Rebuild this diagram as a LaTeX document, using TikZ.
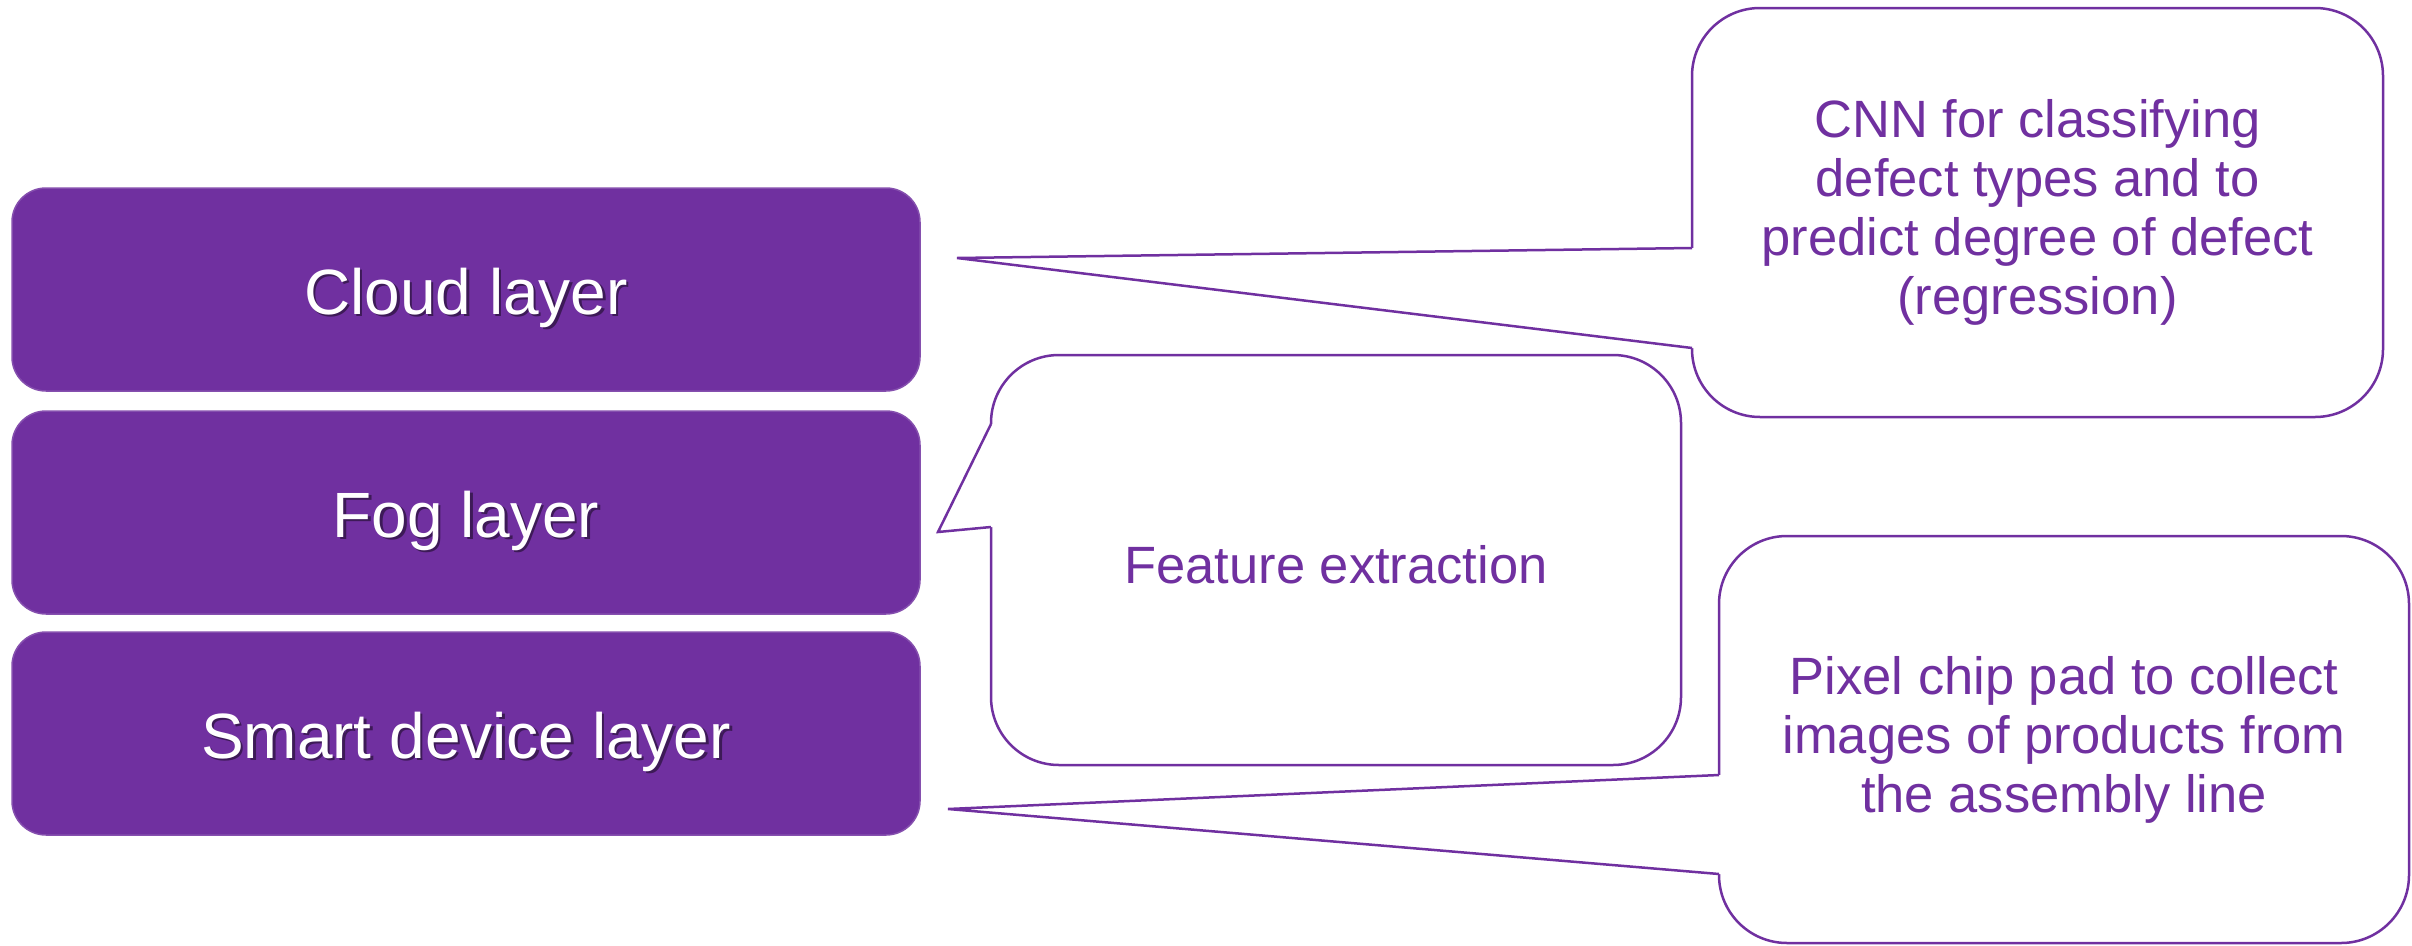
\documentclass[tikz,border=0pt]{standalone}
\usepackage{fontspec}
\setmainfont{Liberation Sans}
\usetikzlibrary{calc}
\definecolor{ppl}{HTML}{7030A0}
\begin{document}
\begin{tikzpicture}[x=1pt,y=-1pt,
  layer/.style={fill=ppl, draw=ppl!85!white, line width=1.5pt, rounded corners=34pt,
    minimum width=908pt, minimum height=203pt, inner sep=0pt, outer sep=0pt},
  ltext/.style={text=white, font=\fontsize{64}{72}\selectfont, inner sep=0pt},
  lshadow/.style={text=black, text opacity=0.45, font=\fontsize{64}{72}\selectfont, inner sep=0pt},
  callout/.style={draw=ppl, fill=white, line width=2.5pt, rounded corners=68pt,
    text=ppl, align=center, font=\fontsize{52.5}{59}\selectfont, inner sep=0pt, outer sep=0pt},
  ptr/.style={draw=ppl, line width=2.5pt, line join=miter},
]
\useasboundingbox (0,0) rectangle (2412,945);

% layer boxes
\node[layer] (cloud) at (466,289.5) {};
\node[layer] (fog)   at (466,512.5) {};
\node[layer] (smart) at (466,733.5) {};

\node[lshadow] (cloudsh) at ($(cloud)+(2.5,10.5)$) {Cloud layer};
\node[ltext]   (cloudtx) at ($(cloud)+(0,8)$) {Cloud layer};
\node[lshadow] (fogsh) at ($(fog)+(2.5,10.5)$) {Fog layer};
\node[ltext]   (fogtx) at ($(fog)+(0,8)$) {Fog layer};
\node[lshadow] (smartsh) at ($(smart)+(2.5,10.5)$) {Smart device layer};
\node[ltext]   (smarttx) at ($(smart)+(0,8)$) {Smart device layer};

% callouts
\node[callout, minimum width=691pt, minimum height=409pt] (cloudC) at (2037.5,212.5)
  {CNN for classifying\\defect types and to\\predict degree of defect\\(regression)};
\node[callout, minimum width=690pt, minimum height=410pt] (fogC) at (1336,560) {};
\node[text=ppl, font=\fontsize{52.5}{59}\selectfont, inner sep=0pt] (fogtxt) at ($(fogC)+(0,5)$)
  {Feature extraction};
\node[callout, minimum width=690pt, minimum height=407pt] (smartC) at (2064,739.5)
  {Pixel chip pad to collect\\images of products from\\the assembly line};

% pointer tips
\coordinate (cloudTip) at ($(cloud.east)+(37,-31.5)$);
\coordinate (fogTip)   at ($(fog.east)+(18,19.5)$);
\coordinate (smartTip) at ($(smart.east)+(28,75.5)$);

% cloud pointer
\fill[white] ($(cloudC.north west)+(3,240)$) -- ($(cloudC.north west)+(-2,240)$) -- (cloudTip)
  -- ($(cloudC.north west)+(-2,340)$) -- ($(cloudC.north west)+(3,340)$) -- cycle;
\draw[ptr] ($(cloudC.north west)+(0,240)$) -- (cloudTip) -- ($(cloudC.north west)+(0,340)$);

% fog pointer
\fill[white] ($(fogC.north west)+(3,69)$) -- ($(fogC.north west)+(-2,69)$) -- (fogTip)
  -- ($(fogC.north west)+(-2,172)$) -- ($(fogC.north west)+(3,172)$) -- cycle;
\draw[ptr] ($(fogC.north west)+(0,69)$) -- (fogTip) -- ($(fogC.north west)+(0,172)$);

% smart pointer
\fill[white] ($(smartC.north west)+(3,239)$) -- ($(smartC.north west)+(-2,239)$) -- (smartTip)
  -- ($(smartC.north west)+(-2,338)$) -- ($(smartC.north west)+(3,338)$) -- cycle;
\draw[ptr] ($(smartC.north west)+(0,239)$) -- (smartTip) -- ($(smartC.north west)+(0,338)$);
\end{tikzpicture}
\end{document}
